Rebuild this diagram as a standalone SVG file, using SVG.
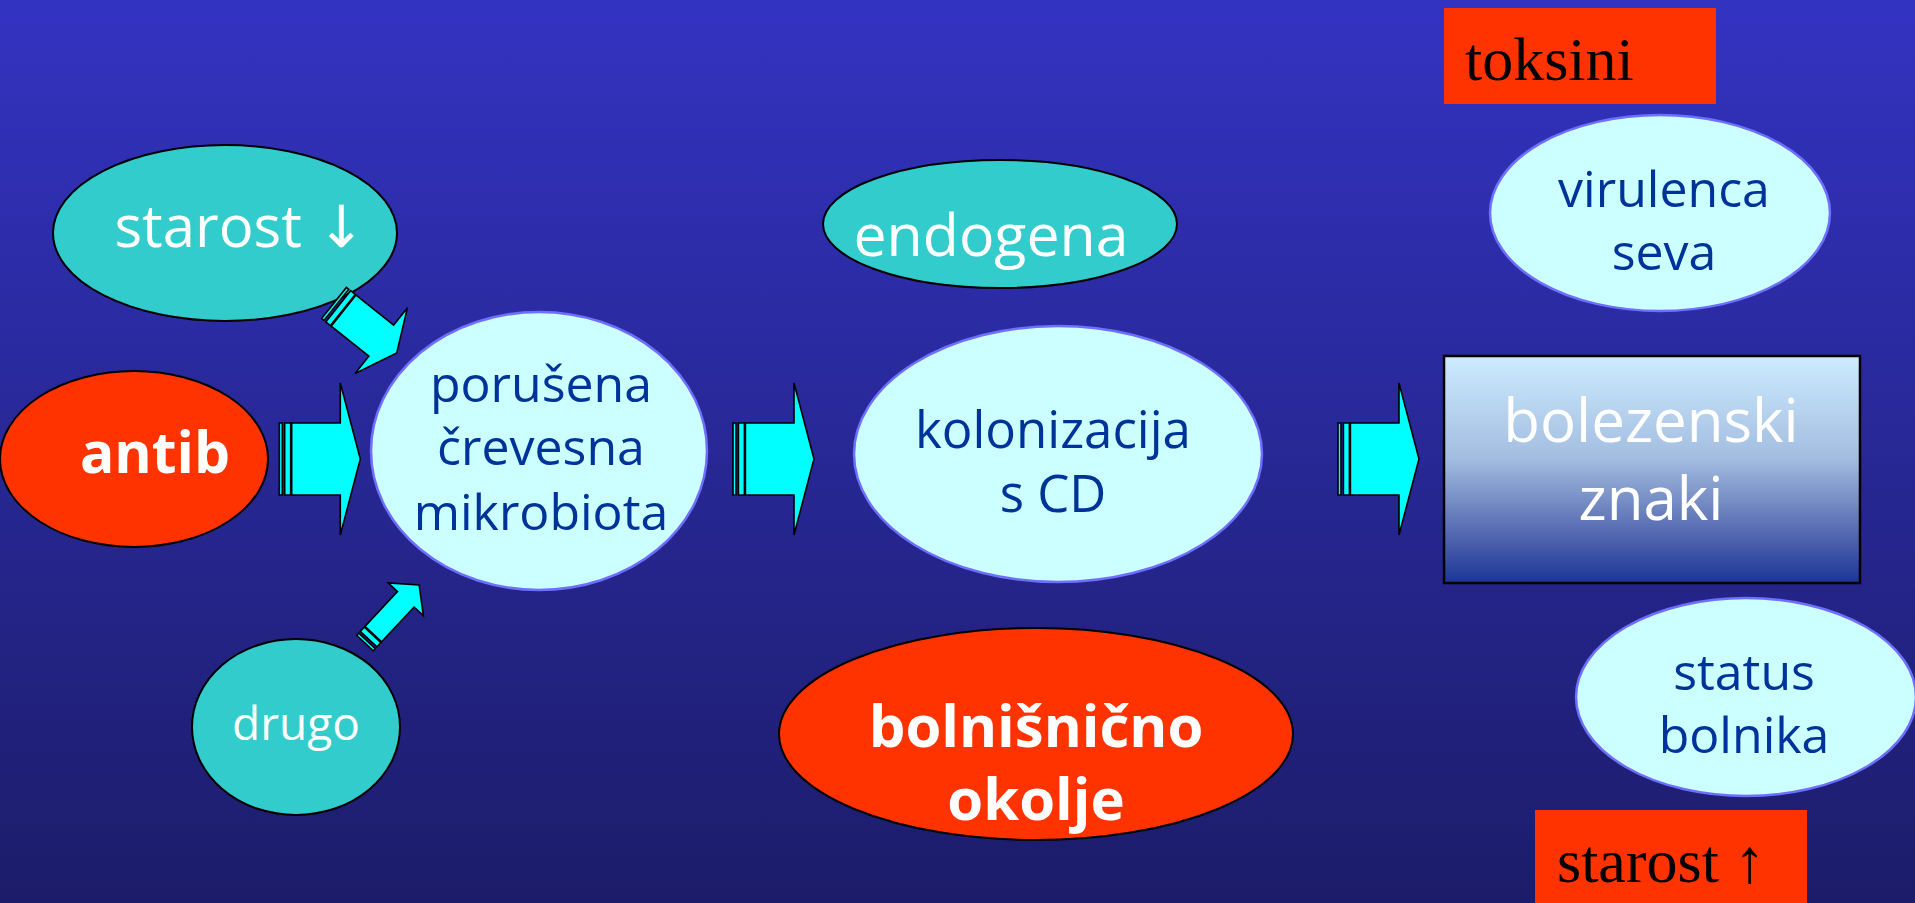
<svg xmlns="http://www.w3.org/2000/svg" xmlns:xlink="http://www.w3.org/1999/xlink" width="1915" height="903" viewBox="0 0 1915 903">
  <defs>
    <linearGradient id="bgGrad" x1="0" y1="0" x2="0" y2="1">
      <stop offset="0" stop-color="#3333c2"/>
      <stop offset="1" stop-color="#1c1c6a"/>
    </linearGradient>
    <linearGradient id="boxGrad" x1="0" y1="0" x2="0" y2="1">
      <stop offset="0" stop-color="#cdebff"/>
      <stop offset="0.45" stop-color="#a3bde0"/>
      <stop offset="0.8" stop-color="#5064ae"/>
      <stop offset="1" stop-color="#1a3596"/>
    </linearGradient>
    <g id="blockArrow">
      <rect x="0" y="-36" width="3" height="72" class="arrowPart"/>
      <rect x="5.4" y="-36" width="6" height="72" class="arrowPart"/>
      <polygon points="12.4,-36 61,-36 61,-76 81,0 61,76 61,36 12.4,36" class="arrowPart"/>
    </g>
    <style>
      .arrowPart { fill: #00ffff; stroke: #000000; stroke-width: 1.6; vector-effect: non-scaling-stroke; stroke-linejoin: miter; }
      .light { fill: #ccffff; stroke: #6e6eff; stroke-width: 2.5; }
      .teal { fill: #33cccc; stroke: #000000; stroke-width: 2; }
      .red { fill: #ff3300; stroke: #000000; stroke-width: 2; }
      .redbox { fill: #ff3300; }
      .sans { font-family: "Open Sans", "Noto Sans", "DejaVu Sans", sans-serif; text-anchor: middle; }
      .serif { font-family: "Liberation Serif", "DejaVu Serif", serif; fill: #000000; }
      .white { fill: #ffffff; }
      .blue { fill: #003399; }
      .bold { font-weight: bold; }
    </style>
  </defs>

  <rect x="0" y="0" width="1915" height="903" fill="url(#bgGrad)"/>

  <g id="node-toksini">
    <rect x="1444" y="8" width="272" height="96" class="redbox"/>
    <text x="1465" y="80" class="serif" font-size="62">toksini</text>
  </g>

  <g id="node-virulenca">
    <ellipse cx="1660" cy="213" rx="170" ry="98" class="light"/>
    <text class="sans blue" font-size="50"><tspan x="1664" y="207">virulenca</tspan><tspan x="1664" y="270">seva</tspan></text>
  </g>

  <g id="node-bolezenski">
    <rect x="1444" y="356" width="416" height="227" fill="url(#boxGrad)" stroke="#000000" stroke-width="2.5"/>
    <text class="sans white" font-size="60"><tspan x="1651" y="442">bolezenski</tspan><tspan x="1651" y="520">znaki</tspan></text>
  </g>

  <g id="node-status">
    <ellipse cx="1746" cy="697" rx="170" ry="99" class="light"/>
    <text class="sans blue" font-size="50"><tspan x="1744" y="690">status</tspan><tspan x="1744" y="753">bolnika</tspan></text>
  </g>

  <g id="node-starost-gor">
    <rect x="1535" y="810" width="272" height="100" class="redbox"/>
    <text x="1557" y="882" class="serif" font-size="62">starost ↑</text>
  </g>

  <g id="node-starost-dol">
    <ellipse cx="225" cy="233" rx="172" ry="88" class="teal"/>
    <text x="240" y="247" class="sans white" font-size="58">starost ↓</text>
  </g>

  <g id="node-antib">
    <ellipse cx="134" cy="459" rx="134" ry="88" class="red"/>
    <text x="155" y="473" class="sans white bold" font-size="57">antib</text>
  </g>

  <g id="node-drugo">
    <ellipse cx="296" cy="727" rx="104" ry="88" class="teal"/>
    <text x="296" y="740" class="sans white" font-size="46">drugo</text>
  </g>

  <g id="node-porusena">
    <ellipse cx="539" cy="451" rx="168" ry="139" class="light"/>
    <text class="sans blue" font-size="50"><tspan x="541" y="402">porušena</tspan><tspan x="541" y="465">črevesna</tspan><tspan x="541" y="530">mikrobiota</tspan></text>
  </g>

  <g id="node-endogena">
    <ellipse cx="1000" cy="224" rx="177" ry="64" class="teal"/>
    <text x="991" y="256" class="sans white" font-size="59">endogena</text>
  </g>

  <g id="node-kolonizacija">
    <ellipse cx="1058" cy="454" rx="204" ry="128" class="light"/>
    <text class="sans blue" font-size="51"><tspan x="1053" y="448">kolonizacija</tspan><tspan x="1053" y="512">s CD</tspan></text>
  </g>

  <g id="node-bolnisnicno">
    <ellipse cx="1036" cy="734" rx="257" ry="106" class="red"/>
    <text class="sans white bold" font-size="58"><tspan x="1036" y="747">bolnišnično</tspan><tspan x="1036" y="820">okolje</tspan></text>
  </g>

  <g id="connectors">
    <use xlink:href="#blockArrow" href="#blockArrow" transform="translate(279.3,459)"/>
    <use xlink:href="#blockArrow" href="#blockArrow" transform="translate(733,459)"/>
    <use xlink:href="#blockArrow" href="#blockArrow" transform="translate(1338,459)"/>
    <use xlink:href="#blockArrow" href="#blockArrow" transform="translate(334,303) rotate(38.5) scale(0.99,0.553)"/>
    <use xlink:href="#blockArrow" href="#blockArrow" transform="translate(365,643) rotate(-47) scale(0.98,0.316)"/>
  </g>
</svg>
